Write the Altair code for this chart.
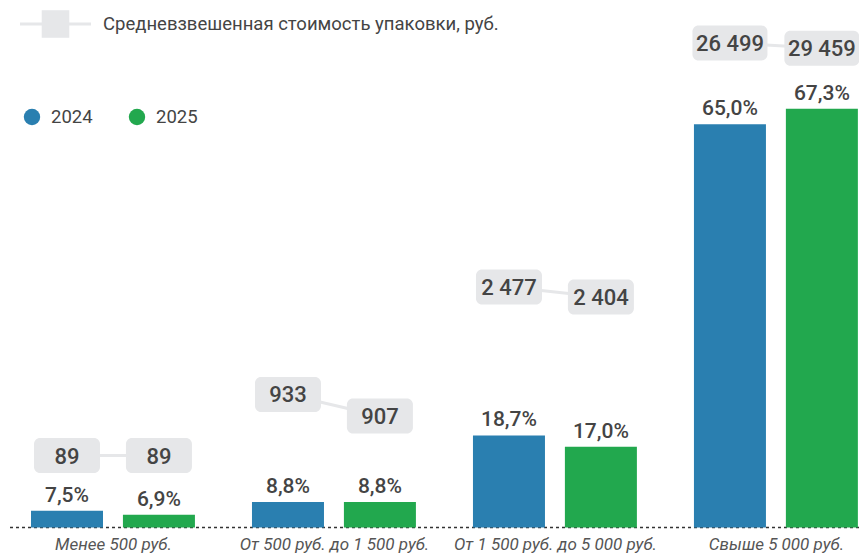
import altair as alt
import pandas as pd
import json

categories = ["Менее 500 руб.", "От 500 руб. до 1 500 руб.", "От 1 500 руб. до 5 000 руб.", "Свыше 5 000 руб."]
years = ["2024", "2025"]
share_2024 = [7.5, 8.8, 18.7, 65.0]
share_2025 = [6.9, 8.8, 17.0, 67.3]
price_2024 = [89, 933, 2477, 26499]
price_2025 = [89, 907, 2404, 29459]
# vertical level of the price badges, in axis units (%)
badge_level_2024 = [15.7, 24.8, 40.8, 77.1]
badge_level_2025 = [15.7, 21.6, 39.3, 76.3]

rows = []
for i, c in enumerate(categories):
    for y, sh, pr, lv in [("2024", share_2024[i], price_2024[i], badge_level_2024[i]),
                          ("2025", share_2025[i], price_2025[i], badge_level_2025[i])]:
        rows.append({"cat": c, "idx": i, "year": y, "share": sh, "price": pr, "level": lv,
                     "share_label": f"{sh:.1f}".replace(".", ",") + "%",
                     "price_label": f"{pr:,}".replace(",", " ")})
df = pd.DataFrame(rows)

FONT = "Roboto"
BLUE = "#2a7fb0"
GREEN = "#22a84e"
BOX = "#e6e7e9"
TXT = "#444444"

label_expr = "%s[datum.value]" % json.dumps(categories, ensure_ascii=False)
x_scale = alt.Scale(domain=[-0.475, 3.376], nice=False, zero=False, padding=0)
y_scale = alt.Scale(domain=[5, 82.3], zero=False, nice=False, padding=0)
x_axis_enc = alt.X("xpos:Q", scale=x_scale,
                   axis=alt.Axis(title=None, domain=False, ticks=False, grid=False, values=[0, 1, 2, 3],
                                 labelExpr=label_expr, labelAngle=0,
                                 labelFont=FONT, labelFontSize=17, labelFontStyle="italic",
                                 labelColor="#555555", labelPadding=9, labelLimit=300,
                                 labelFlush=False, labelOverlap=False))
x_enc = alt.X("xpos:Q", scale=x_scale, axis=None)
color_enc = alt.Color("year:N", sort=years, scale=alt.Scale(domain=years, range=[BLUE, GREEN]), legend=None)

base = alt.Chart(df).transform_calculate(
    xpos="datum.idx + (datum.year == '2024' ? -0.208 : 0.208)",
    lo="datum.level - 2.6", hi="datum.level + 2.6", y0="5")

bars = base.mark_bar(width=72).encode(
    x=x_axis_enc,
    y=alt.Y("share:Q", scale=y_scale, axis=None),
    y2="y0:Q",
    color=color_enc,
)

share_text = base.mark_text(font=FONT, fontSize=21, fontWeight=500, color=TXT,
                            baseline="bottom", dy=-5).encode(
    x=x_enc, y=alt.Y("share:Q", scale=y_scale, axis=None), text="share_label:N")

connector = base.mark_line(color=BOX, strokeWidth=3).encode(
    x=x_enc, y=alt.Y("level:Q", scale=y_scale, axis=None), detail="cat:N")

badge_small = base.transform_filter("length(datum.price_label) <= 5").mark_bar(
    width=66, color=BOX, cornerRadius=6).encode(
    x=x_enc, y=alt.Y("lo:Q", scale=y_scale, axis=None), y2="hi:Q")
badge_big = base.transform_filter("length(datum.price_label) > 5").mark_bar(
    width=75, color=BOX, cornerRadius=6).encode(
    x=x_enc, y=alt.Y("lo:Q", scale=y_scale, axis=None), y2="hi:Q")

badge_text = base.mark_text(font=FONT, fontSize=22, fontWeight=500, color=TXT,
                            baseline="middle", dy=1).encode(
    x=x_enc, y=alt.Y("level:Q", scale=y_scale, axis=None), text="price_label:N")

baseline = base.transform_filter("datum.idx == 0 && datum.year == '2024'").mark_rule(
    color="#333333", strokeWidth=1.5, strokeDash=[3, 3]).encode(
    y=alt.Y("y0:Q", scale=y_scale, axis=None), x=alt.value(2), x2=alt.value(851))

# legends (pixel-positioned decorations)
leg_df = pd.DataFrame({
    "px": [12, 95, 24, 43, 129, 148],
    "py": [16, 16, 109, 109, 109, 109],
    "t": ["", "Средневзвешенная стоимость упаковки, руб.", "", years[0], "", years[1]],
    "kind": ["line", "text", "dot", "text", "dot", "text"],
    "year": ["", "", years[0], "", years[1], ""],
})
leg_base = alt.Chart(leg_df)
lx = alt.X("px:Q", scale=None, axis=None)
ly = alt.Y("py:Q", scale=None, axis=None)
leg_line = leg_base.transform_filter("datum.kind == 'line'").mark_rule(color=BOX, strokeWidth=3).encode(
    x=lx, x2=alt.value(83), y=ly)
leg_box = leg_base.transform_filter("datum.kind == 'line'").mark_square(
    size=760, color=BOX, opacity=1, filled=True).encode(
    x=alt.value(47.5), y=ly)
leg_text = leg_base.transform_filter("datum.kind == 'text'").mark_text(
    font=FONT, fontSize=18.5, color=TXT, align="left", baseline="middle").encode(
    x=lx, y=ly, text="t:N")
leg_dots = leg_base.transform_filter("datum.kind == 'dot'").mark_circle(size=270, opacity=1).encode(
    x=lx, y=ly,
    color=alt.Color("year:N", scale=alt.Scale(domain=years, range=[BLUE, GREEN]), legend=None))

chart = alt.layer(
    baseline, bars, share_text, connector, badge_small, badge_big, badge_text,
    leg_line, leg_box, leg_text, leg_dots
).resolve_scale(x="independent", y="independent").properties(
    width=851, height=519.5,
    padding={"left": 0, "top": 0, "right": 0, "bottom": 30},
    autosize="none",
).configure_view(stroke=None)

chart.save("out.html", embed_options={"renderer": "svg", "actions": False})
